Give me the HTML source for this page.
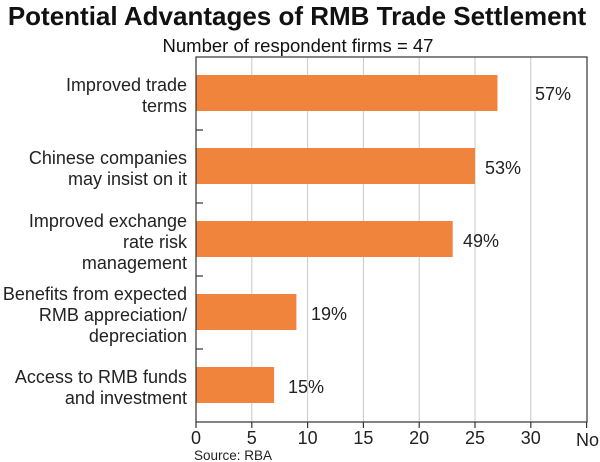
<!DOCTYPE html>
<html><head><meta charset="utf-8"><style>body{margin:0;background:#fff}svg{display:block}</style></head><body>
<svg width="600" height="462" xmlns="http://www.w3.org/2000/svg" font-family="Liberation Sans, Arial, sans-serif">
<text x="297" y="25" text-anchor="middle" font-size="26" font-weight="bold" fill="#111">Potential Advantages of RMB Trade Settlement</text>
<text x="298" y="52" text-anchor="middle" font-size="18.5" fill="#111">Number of respondent firms = 47</text>
<g stroke="#c8c8c8" stroke-width="1">
<line x1="251.8" y1="57" x2="251.8" y2="422"/><line x1="307.6" y1="57" x2="307.6" y2="422"/><line x1="363.4" y1="57" x2="363.4" y2="422"/><line x1="419.2" y1="57" x2="419.2" y2="422"/><line x1="475" y1="57" x2="475" y2="422"/><line x1="530.8" y1="57" x2="530.8" y2="422"/>
</g>
<g fill="#f0843c">
<rect x="196" y="75" width="301.5" height="36"/>
<rect x="196" y="148" width="279" height="36"/>
<rect x="196" y="221" width="256.7" height="36"/>
<rect x="196" y="294" width="100.4" height="36"/>
<rect x="196" y="367" width="78.1" height="36"/>
</g>
<rect x="196" y="57" width="391" height="365" fill="none" stroke="#333" stroke-width="1.2"/>
<g stroke="#333" stroke-width="1.2">
<line x1="196" y1="130" x2="203" y2="130"/><line x1="196" y1="203" x2="203" y2="203"/><line x1="196" y1="276" x2="203" y2="276"/><line x1="196" y1="349" x2="203" y2="349"/>
<line x1="196" y1="422" x2="196" y2="428"/><line x1="251.8" y1="422" x2="251.8" y2="428"/><line x1="307.6" y1="422" x2="307.6" y2="428"/><line x1="363.4" y1="422" x2="363.4" y2="428"/><line x1="419.2" y1="422" x2="419.2" y2="428"/><line x1="475" y1="422" x2="475" y2="428"/><line x1="530.8" y1="422" x2="530.8" y2="428"/><line x1="586.6" y1="422" x2="586.6" y2="428"/>
</g>
<g font-size="18" fill="#222" text-anchor="end">
<text x="187" y="91">Improved trade</text><text x="187" y="112">terms</text>
<text x="187" y="164">Chinese companies</text><text x="187" y="185">may insist on it</text>
<text x="187" y="227">Improved exchange</text><text x="187" y="248">rate risk</text><text x="187" y="269">management</text>
<text x="187" y="300">Benefits from expected</text><text x="187" y="321">RMB appreciation/</text><text x="187" y="342">depreciation</text>
<text x="187" y="383">Access to RMB funds</text><text x="187" y="404">and investment</text>
</g>
<g font-size="18" fill="#222">
<text x="535" y="100">57%</text>
<text x="485" y="174">53%</text>
<text x="463" y="247">49%</text>
<text x="311" y="320">19%</text>
<text x="288" y="393">15%</text>
</g>
<g font-size="18" fill="#222" text-anchor="middle">
<text x="196" y="444">0</text><text x="251.8" y="444">5</text><text x="307.6" y="444">10</text><text x="363.4" y="444">15</text><text x="419.2" y="444">20</text><text x="475" y="444">25</text><text x="530.8" y="444">30</text>
</g>
<text x="576" y="446" font-size="18" fill="#222">No</text>
<text x="194" y="460" font-size="13.5" fill="#222">Source: RBA</text>
</svg>
</body></html>
